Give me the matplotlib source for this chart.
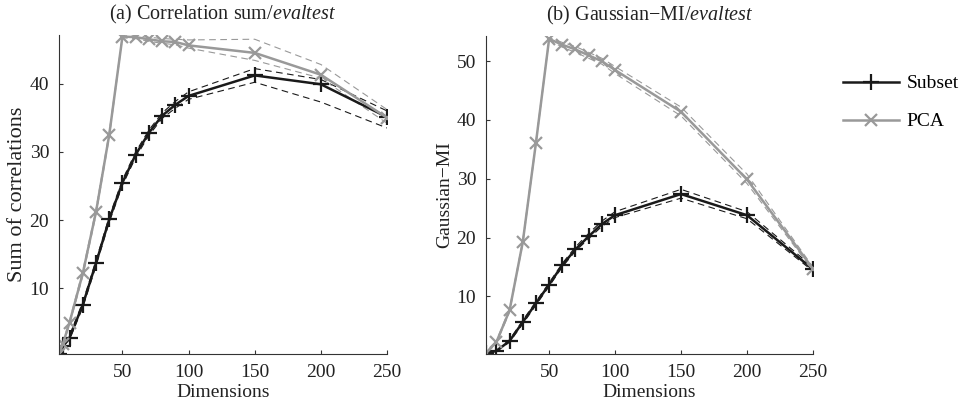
import matplotlib
matplotlib.use("Agg")
import matplotlib.pyplot as plt

plt.rcParams['font.family'] = ['Liberation Serif', 'DejaVu Serif']
plt.rcParams['mathtext.fontset'] = 'custom'
plt.rcParams['mathtext.rm'] = 'Liberation Serif'
plt.rcParams['mathtext.it'] = 'Liberation Serif:italic'

# (a) Correlation sum
dims_a = [2, 5, 10, 20, 30, 40, 50, 60, 70, 80, 90, 100, 150, 200, 250]
subset_a = [0.4, 1.6, 2.8, 7.6, 13.7, 20.1, 25.5, 29.6, 32.8, 35.3, 36.9, 38.2, 41.2, 39.9, 35.1]
subset_a_hi = [0.5, 1.8, 3.1, 8.0, 14.1, 20.5, 25.9, 30.0, 33.2, 35.7, 37.4, 38.8, 42.2, 40.6, 36.0]
subset_a_lo = [0.3, 1.4, 2.5, 7.2, 13.3, 19.7, 25.1, 29.2, 32.4, 34.9, 36.4, 37.7, 40.2, 37.3, 33.5]
pca_a = [0.4, 1.9, 5.0, 12.2, 21.2, 32.5, 46.9, 46.8, 46.5, 46.2, 46.1, 45.6, 44.5, 41.3, 35.0]
pca_a_hi = [0.5, 2.1, 5.3, 12.6, 21.6, 32.9, 47.0, 47.0, 46.8, 46.6, 46.5, 46.4, 46.5, 42.8, 36.2]
pca_a_lo = [0.3, 1.7, 4.7, 11.8, 20.8, 32.1, 46.7, 46.6, 46.2, 45.9, 45.7, 45.2, 43.4, 40.8, 34.2]

# (b) Gaussian-MI
dims_b = [2, 10, 20, 30, 40, 50, 60, 70, 80, 90, 100, 150, 200, 250]
subset_b = [0.3, 0.7, 2.4, 5.6, 8.8, 12.0, 15.3, 18.0, 20.2, 22.3, 23.8, 27.4, 23.8, 14.6]
subset_b_hi = [0.3, 0.8, 2.6, 5.9, 9.1, 12.3, 15.6, 18.4, 20.7, 22.8, 24.4, 28.2, 24.4, 15.0]
subset_b_lo = [0.3, 0.6, 2.2, 5.3, 8.5, 11.7, 15.0, 17.7, 19.8, 21.9, 23.4, 26.7, 23.2, 14.3]
pca_b = [0.3, 2.2, 7.6, 19.2, 36.1, 53.8, 52.8, 52.0, 51.0, 50.0, 48.5, 41.4, 29.9, 14.7]
pca_b_hi = [0.3, 2.4, 7.9, 19.5, 36.4, 54.0, 53.2, 52.5, 51.5, 50.5, 49.1, 42.2, 30.8, 15.0]
pca_b_lo = [0.3, 2.0, 7.3, 18.9, 35.8, 53.6, 52.4, 51.5, 50.5, 49.5, 47.9, 40.7, 29.2, 14.4]

BLACK = '#1a1a1a'
GRAY = '#999999'
SPINE = '#333333'
TEXT = '#222222'

fig = plt.figure(figsize=(9.62, 4.04), dpi=100)
ax1 = fig.add_axes([0.0613, 0.124, 0.341, 0.789])
ax2 = fig.add_axes([0.505, 0.124, 0.340, 0.787])


def draw_panel(ax, dims, sub, sub_hi, sub_lo, pca, pca_hi, pca_lo):
    for band in (sub_hi, sub_lo):
        ax.plot(dims, band, '--', color=BLACK, lw=0.8, dashes=(6, 4))
    for band in (pca_hi, pca_lo):
        ax.plot(dims, band, '--', color=GRAY, lw=0.8, dashes=(6, 4))
    ax.plot(dims, sub, '-', color=BLACK, lw=1.8, marker='+', ms=11, mew=1.6, label='Subset')
    ax.plot(dims, pca, '-', color=GRAY, lw=1.8, marker='x', ms=9, mew=1.6, label='PCA')
    ax.set_xlim(dims[0], 250)
    ax.set_xticks([50, 100, 150, 200, 250])
    for s in ('top', 'right'):
        ax.spines[s].set_visible(False)
    for s in ('left', 'bottom'):
        ax.spines[s].set_color(SPINE)
        ax.spines[s].set_linewidth(0.8)
    ax.tick_params(direction='in', length=3, width=0.8, color=SPINE,
                   labelsize=14, labelcolor=TEXT, pad=7)
    ax.set_xlabel('Dimensions', fontsize=14, color=TEXT, labelpad=2.5)


draw_panel(ax1, dims_a, subset_a, subset_a_hi, subset_a_lo, pca_a, pca_a_hi, pca_a_lo)
ax1.set_ylim(0.4, 47.1)
ax1.set_yticks([10, 20, 30, 40])
ax1.set_ylabel('Sum of correlations', fontsize=16, color=TEXT, labelpad=2)
ax1.set_title(r'(a) Correlation sum/$\it{evaltest}$', fontsize=14.5, color=TEXT, pad=11)

draw_panel(ax2, dims_b, subset_b, subset_b_hi, subset_b_lo, pca_b, pca_b_hi, pca_b_lo)
ax2.set_ylim(0.2, 54.3)
ax2.set_yticks([10, 20, 30, 40, 50])
ax2.set_ylabel('Gaussian\u2212MI', fontsize=14, color=TEXT, labelpad=2)
ax2.set_title('(b) Gaussian\u2212MI/$\\it{evaltest}$', fontsize=14.5, color=TEXT, pad=11)

ax2.legend(loc='upper left', bbox_to_anchor=(0.876, 0.815), bbox_transform=fig.transFigure,
           frameon=False, fontsize=14, handlelength=2.9, handletextpad=0.4,
           labelspacing=1.05, borderaxespad=0, borderpad=0)

fig.savefig('out.png', dpi=100)
